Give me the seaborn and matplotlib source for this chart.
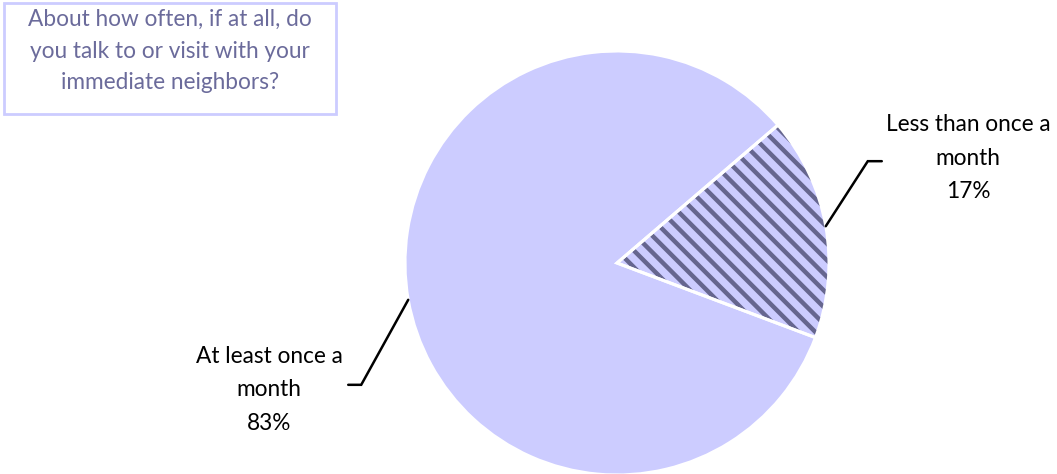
import numpy as np
import matplotlib
matplotlib.use("Agg")
import matplotlib.pyplot as plt
import seaborn as sns
from matplotlib.patches import Rectangle

sns.set_style("white")
plt.rcParams['font.family'] = ['Lato', 'DejaVu Sans']
plt.rcParams['hatch.linewidth'] = 3.2

question = "About how often, if at all, do\nyou talk to or visit with your\nimmediate neighbors?"
categories = ["At least once a\nmonth", "Less than once a\nmonth"]
shares = [83, 17]

fill = "#ccccff"
hatch_col = "#66668f"
title_col = "#6b6b9b"

W, H = 1057, 474
fig = plt.figure(figsize=(W / 100, H / 100), dpi=100)
ax = fig.add_axes([0, 0, 1, 1])

center = (617, H - 263)
radius = 212
start = 40.6

# base pie (hatched slice carries the dark hatch colour as its edge)
wedges, _ = ax.pie(shares, colors=[fill, fill], startangle=start, counterclock=True,
                   center=center, radius=radius,
                   wedgeprops=dict(edgecolor=hatch_col, linewidth=0))
wedges[1].set_hatch('\\\\')
# white separators on top
ax.pie(shares, colors=["none", "none"], startangle=start, counterclock=True,
       center=center, radius=radius,
       wedgeprops=dict(edgecolor="white", linewidth=2.2, fill=False))

# leader lines + labels
elbows = [((-47, -85), -13), ((42, 65), 14)]
text_pos = [(269, H - 390), (968, H - 158)]
for w, share, cat, (off, tail), tp in zip(wedges, shares, categories, elbows, text_pos):
    ang = np.deg2rad((w.theta1 + w.theta2) / 2)
    x0 = center[0] + radius * np.cos(ang)
    y0 = center[1] + radius * np.sin(ang)
    x1, y1 = x0 + off[0], y0 + off[1]
    ax.plot([x0, x1, x1 + tail], [y0, y1, y1], color="black", lw=1.8,
            solid_joinstyle="miter")
    ax.text(tp[0], tp[1], f"{cat}\n{share}%", ha="center", va="center",
            fontsize=16.3, color="black", linespacing=1.72)

# question box
ax.add_patch(Rectangle((4, H - 114), 332, 111, facecolor="white",
                       edgecolor=fill, lw=2))
ax.text(170, H - 51, question, ha="center", va="center", fontsize=16.3,
        color=title_col, linespacing=1.64)

ax.set_xlim(0, W)
ax.set_ylim(0, H)
ax.set_aspect("equal")
ax.axis("off")
fig.savefig("out.png", dpi=100)
